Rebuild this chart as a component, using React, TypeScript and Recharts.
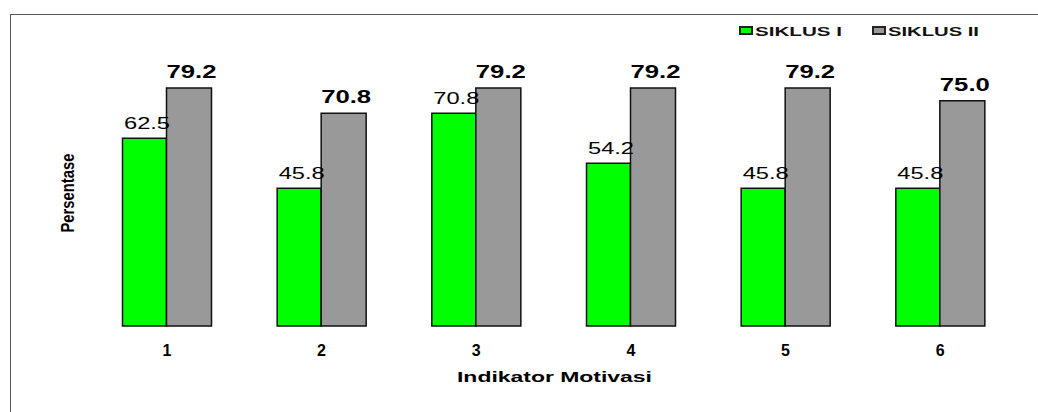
import React from 'react';
import { BarChart, Bar, XAxis, YAxis, LabelList } from 'recharts';

const indicators = ['1', '2', '3', '4', '5', '6'];
const siklus1 = [62.5, 45.8, 70.8, 54.2, 45.8, 45.8];
const siklus2 = [79.2, 70.8, 79.2, 79.2, 79.2, 75.0];
const seriesNames = ['SIKLUS I', 'SIKLUS II'];
const seriesColors = ['#00ff00', '#999999'];

const data = indicators.map((name, i) => ({ name, s1: siklus1[i], s2: siklus2[i] }));

const font = 'Liberation Sans, Arial, sans-serif';

// the original uses a wide, stretched face, so text is widened with textLength
const makeValueLabel = (bold: boolean, size: number, lift: number, len: number) => (props: any) => {
  const { x, y, width, value } = props;
  const cx = Number(x) + Number(width) / 2 + 2.5;
  return (
    <text
      x={cx}
      y={Number(y) - lift}
      textAnchor="middle"
      textLength={len}
      lengthAdjust="spacingAndGlyphs"
      style={{ fontFamily: font, fontSize: size, fontWeight: bold ? 'bold' : 'normal', fill: '#000' }}
    >
      {Number(value).toFixed(1)}
    </text>
  );
};

const AxisTitle = (props: any) => {
  const { viewBox } = props;
  const cx = viewBox.x + viewBox.width / 2;
  return (
    <text
      x={cx + 1}
      y={382}
      textAnchor="middle"
      textLength={195}
      lengthAdjust="spacingAndGlyphs"
      style={{ fontFamily: font, fontSize: 15, fontWeight: 'bold', fill: '#000' }}
    >
      Indikator Motivasi
    </text>
  );
};

const LegendBox = () => (
  <svg width={300} height={30} style={{ position: 'absolute', left: 730, top: 15 }}>
    {seriesNames.map((label, i) => {
      const x0 = i === 0 ? 9 : 142;
      return (
        <g key={label}>
          <rect x={x0 + 1} y={12} width={12} height={7} fill={seriesColors[i]} stroke="#222" strokeWidth={2} />
          <text
            x={x0 + 16}
            y={20.5}
            textLength={i === 0 ? 87 : 91}
            lengthAdjust="spacingAndGlyphs"
            style={{ fontFamily: font, fontSize: 13, fontWeight: 'bold', fill: '#111' }}
          >
            {label}
          </text>
        </g>
      );
    })}
  </svg>
);

const App: React.FC = () => {
  return (
    <div style={{ position: 'absolute', left: 0, top: 0, width: 1038, height: 412, background: '#fff', overflow: 'hidden' }}>
      <div
        style={{
          position: 'absolute',
          left: 10,
          top: 14,
          width: 1040,
          height: 420,
          borderTop: '1px solid #555',
          borderLeft: '1px solid #555',
        }}
      />
      <LegendBox />
      <div style={{ position: 'absolute', left: 0, top: 0 }}>
        <BarChart
          width={1038}
          height={412}
          data={data}
          margin={{ top: 25.5, right: 20.5, left: 89.5, bottom: 56 }}
          barGap={0}
        >
          <XAxis
            dataKey="name"
            axisLine={false}
            tickLine={false}
            height={30}
            tickMargin={13}
            tick={{ fontFamily: font, fontSize: 16, fontWeight: 'bold', fill: '#000' }}
            label={<AxisTitle />}
          />
          <YAxis hide domain={[0, 100]} />
          <Bar dataKey="s1" name={seriesNames[0]} fill={seriesColors[0]} stroke="#111" strokeWidth={1.5} barSize={44} isAnimationActive={false}>
            <LabelList dataKey="s1" content={makeValueLabel(false, 16.5, 9, 46)} />
          </Bar>
          <Bar dataKey="s2" name={seriesNames[1]} fill={seriesColors[1]} stroke="#111" strokeWidth={1.5} barSize={45} isAnimationActive={false}>
            <LabelList dataKey="s2" content={makeValueLabel(true, 18, 10, 50)} />
          </Bar>
          <text
            x={68}
            y={193}
            transform="rotate(-90 68 193)"
            textAnchor="middle"
            dominantBaseline="central"
            textLength={79}
            lengthAdjust="spacingAndGlyphs"
            style={{ fontFamily: font, fontSize: 18, fontWeight: 'bold', fill: '#000' }}
          >
            Persentase
          </text>
        </BarChart>
      </div>
    </div>
  );
};

export default App;
